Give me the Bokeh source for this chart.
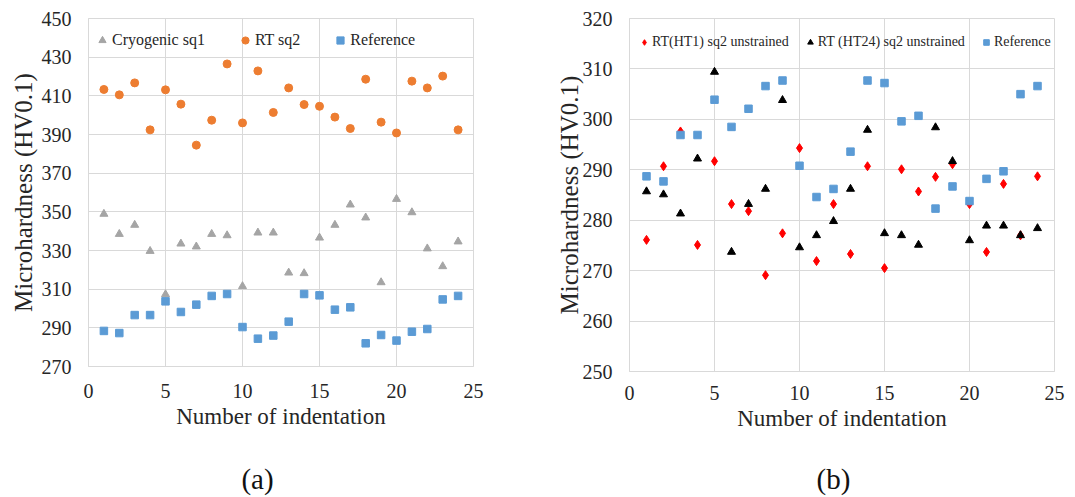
from bokeh.plotting import figure
from bokeh.models import Legend, LegendItem, FixedTicker, Label, Range1d
from bokeh.layouts import row, column
from bokeh.embed import file_html
from bokeh.resources import INLINE

# ---------------- data ----------------
indentation = list(range(1, 25))
x_ticks = [0, 5, 10, 15, 20, 25]
y_ticks_a = [270, 290, 310, 330, 350, 370, 390, 410, 430, 450]
y_ticks_b = [250, 260, 270, 280, 290, 300, 310, 320]

cryogenic_sq1 = [348.9, 338.5, 343.2, 329.7, 307.3, 333.5, 332.0, 338.5, 337.8, 311.5, 339.2, 339.2,
                 318.5, 318.2, 336.6, 343.2, 353.7, 347.0, 313.5, 356.6, 349.7, 331.0, 321.8, 334.6]
rt_sq2 = [413.3, 410.5, 416.7, 392.4, 413.1, 405.7, 384.5, 397.4, 426.5, 396.0, 422.9, 401.4,
          414.1, 405.5, 404.6, 399.0, 393.1, 418.6, 396.4, 390.8, 417.6, 414.1, 420.2, 392.4]
reference_a = [288.4, 287.3, 296.6, 296.6, 303.7, 298.2, 302.0, 306.5, 307.5, 290.4, 284.4, 286.0,
               293.2, 307.5, 306.8, 299.4, 300.6, 282.0, 286.3, 283.4, 288.0, 289.4, 304.7, 306.5]

rt_ht1 = [276.1, 290.7, 297.6, 275.1, 291.7, 283.2, 281.8, 269.1, 277.4, 294.3, 271.9, 283.2,
          273.3, 290.7, 270.5, 290.1, 285.7, 288.6, 291.1, 283.2, 273.7, 287.2, 277.0, 288.7]
rt_ht24 = [285.7, 285.1, 281.3, 292.2, 309.4, 273.7, 283.2, 286.2, 303.8, 274.6, 277.0, 279.8,
           286.2, 297.9, 277.4, 277.0, 275.1, 298.4, 291.7, 276.0, 278.9, 278.9, 277.0, 278.4]
reference_b = [288.7, 287.7, 296.9, 296.9, 303.9, 298.5, 302.1, 306.6, 307.7, 290.8, 284.6, 286.2,
               293.6, 307.7, 307.2, 299.6, 300.7, 282.3, 286.7, 283.8, 288.2, 289.7, 305.0, 306.6]

# ---------------- style ----------------
FONT = "'Liberation Serif', 'Times New Roman', serif"
TXT = "#262626"
GRID = "#D9D9D9"
ORANGE = "#ED7D31"
GRAY = "#A5A5A5"
BLUE = "#5B9BD5"
TOP = 18
BOTTOM = 74
TOTAL_H = 496


def base_fig(width, yr, yticks, border_left, border_right, frame_h,
             ylabel_standoff, xlabel_standoff):
    p = figure(width=width, height=TOP + frame_h + BOTTOM, output_backend="svg",
               toolbar_location=None, x_range=Range1d(0, 25), y_range=Range1d(*yr),
               min_border_left=border_left, min_border_right=border_right,
               min_border_top=TOP, min_border_bottom=BOTTOM,
               background_fill_color="white", border_fill_color="white")
    p.title.visible = False
    p.outline_line_color = GRID
    p.xaxis.ticker = FixedTicker(ticks=x_ticks)
    p.yaxis.ticker = FixedTicker(ticks=yticks)
    p.xgrid.grid_line_color = GRID
    p.ygrid.grid_line_color = GRID
    for ax in (p.xaxis[0], p.yaxis[0]):
        ax.axis_line_color = GRID
        ax.major_tick_line_color = None
        ax.minor_tick_line_color = None
        ax.major_tick_out = 0
        ax.major_tick_in = 0
        ax.major_label_text_font = FONT
        ax.major_label_text_font_size = "20px"
        ax.major_label_text_color = TXT
        ax.axis_label_text_font = FONT
        ax.axis_label_text_font_style = "normal"
        ax.axis_label_text_color = TXT
    p.xaxis.axis_label = "Number of indentation"
    p.xaxis.axis_label_text_font_size = "23px"
    p.xaxis.major_label_standoff = xlabel_standoff
    p.xaxis.axis_label_standoff = 3
    p.yaxis.axis_label = "Microhardness (HV0.1)"
    p.yaxis.axis_label_text_font_size = "25px"
    p.yaxis.major_label_standoff = 17
    p.yaxis.axis_label_standoff = ylabel_standoff
    return p


def caption_fig(width, height, text, cx, cy_from_bottom):
    c = figure(width=width, height=height, output_backend="svg", toolbar_location=None,
               x_range=Range1d(0, 1), y_range=Range1d(0, 1), min_border=0,
               x_axis_location=None, y_axis_location=None,
               background_fill_color="white", border_fill_color="white")
    c.title.visible = False
    c.outline_line_color = None
    c.xgrid.grid_line_color = None
    c.ygrid.grid_line_color = None
    c.add_layout(Label(text=text, x=cx, y=cy_from_bottom, x_units="screen", y_units="screen",
                       text_align="center", text_baseline="middle", text_font=FONT,
                       text_font_size="29px", text_color="#111111"))
    return c


# ---------------- (a) ----------------
pa = base_fig(540, (270, 450), y_ticks_a, 88, 67, 348, 2, 17)
ra1 = pa.scatter(indentation, cryogenic_sq1, marker="triangle", size=8, color=GRAY)
ra2 = pa.scatter(indentation, rt_sq2, marker="circle", size=8, color=ORANGE)
ra3 = pa.scatter(indentation, reference_a, marker="square", size=7.5, color=BLUE)
leg_a = Legend(items=[LegendItem(label="Cryogenic sq1", renderers=[ra1]),
                      LegendItem(label="RT sq2", renderers=[ra2]),
                      LegendItem(label="Reference", renderers=[ra3])],
               orientation="horizontal", location=(0, 311), margin=0, padding=5,
               spacing=31, glyph_width=18, glyph_height=20, label_standoff=1,
               label_text_font=FONT, label_text_font_size="16px", label_text_color=TXT,
               background_fill_alpha=0, border_line_alpha=0)
pa.add_layout(leg_a)

# ---------------- (b) ----------------
pb = base_fig(534, (250, 320), y_ticks_b, 89, 20, 353, -3, 14)
rb1 = pb.scatter(indentation, rt_ht1, marker="diamond", size=9, color="#FF0000")
rb2 = pb.scatter(indentation, rt_ht24, marker="triangle", size=8, color="#000000")
rb3 = pb.scatter(indentation, reference_b, marker="square", size=7.5, color=BLUE)
leg_b = Legend(items=[LegendItem(label="RT(HT1) sq2 unstrained", renderers=[rb1]),
                      LegendItem(label="RT (HT24) sq2 unstrained", renderers=[rb2]),
                      LegendItem(label="Reference", renderers=[rb3])],
               orientation="horizontal", location=(3, 314), margin=0, padding=5,
               spacing=14, glyph_width=14, glyph_height=20, label_standoff=1,
               label_text_font=FONT, label_text_font_size="14px", label_text_color=TXT,
               background_fill_alpha=0, border_line_alpha=0)
pb.add_layout(leg_b)

top_h = max(pa.height, pb.height)
cap_h = TOTAL_H - top_h
cap_a = caption_fig(540, cap_h, "(a)", 257, 18)
cap_b = caption_fig(534, cap_h, "(b)", 293, 18)

layout = column(row(pa, pb), row(cap_a, cap_b))
open("out.html", "w").write(file_html(layout, INLINE))
